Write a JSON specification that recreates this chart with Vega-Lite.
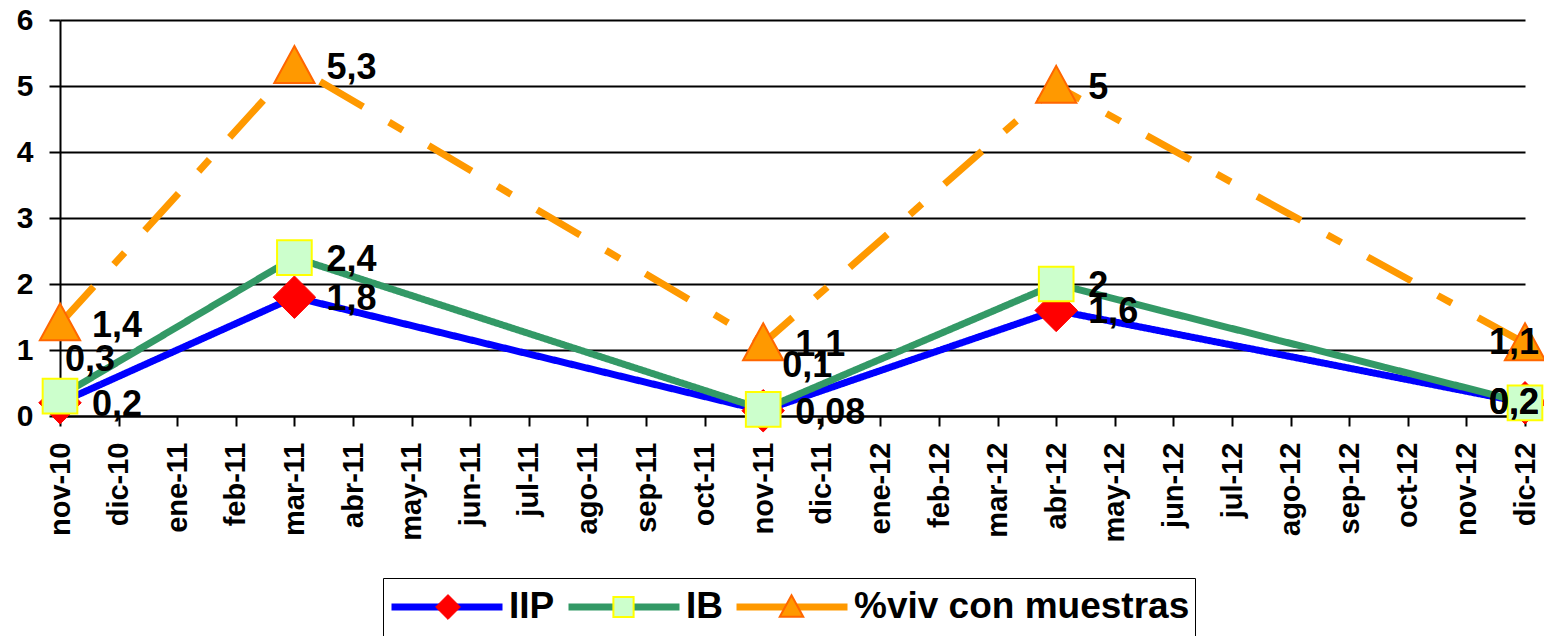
{
  "$schema": "https://vega.github.io/schema/vega-lite/v6.json",
  "width": 1465,
  "height": 396,
  "autosize": {"type": "none"},
  "padding": {"left": 60, "top": 20, "right": 19, "bottom": 220},
  "background": "white",
  "config": {
    "view": {"stroke": null},
    "font": "Liberation Sans",
    "locale": {"number": {"decimal": ",", "thousands": ".", "grouping": [3], "currency": ["", " €"]}}
  },
  "resolve": {"scale": {"shape": "independent"}, "legend": {"shape": "independent"}},
  "data": {
    "values": [
      {"mes": "nov-10", "serie": "IIP", "valor": 0.2},
      {"mes": "mar-11", "serie": "IIP", "valor": 1.8},
      {"mes": "nov-11", "serie": "IIP", "valor": 0.08},
      {"mes": "abr-12", "serie": "IIP", "valor": 1.6},
      {"mes": "dic-12", "serie": "IIP", "valor": 0.2},
      {"mes": "nov-10", "serie": "IB", "valor": 0.3},
      {"mes": "mar-11", "serie": "IB", "valor": 2.4},
      {"mes": "nov-11", "serie": "IB", "valor": 0.1},
      {"mes": "abr-12", "serie": "IB", "valor": 2},
      {"mes": "dic-12", "serie": "IB", "valor": 0.2},
      {"mes": "nov-10", "serie": "%viv con muestras", "valor": 1.4},
      {"mes": "mar-11", "serie": "%viv con muestras", "valor": 5.3},
      {"mes": "nov-11", "serie": "%viv con muestras", "valor": 1.1},
      {"mes": "abr-12", "serie": "%viv con muestras", "valor": 5},
      {"mes": "dic-12", "serie": "%viv con muestras", "valor": 1.1}
    ]
  },
  "encoding": {
    "x": {
      "field": "mes", "type": "ordinal",
      "sort": ["nov-10","dic-10","ene-11","feb-11","mar-11","abr-11","may-11","jun-11","jul-11","ago-11","sep-11","oct-11","nov-11","dic-11","ene-12","feb-12","mar-12","abr-12","may-12","jun-12","jul-12","ago-12","sep-12","oct-12","nov-12","dic-12"],
      "scale": {"type": "point", "padding": 0,
        "domain": ["nov-10","dic-10","ene-11","feb-11","mar-11","abr-11","may-11","jun-11","jul-11","ago-11","sep-11","oct-11","nov-11","dic-11","ene-12","feb-12","mar-12","abr-12","may-12","jun-12","jul-12","ago-12","sep-12","oct-12","nov-12","dic-12"]},
      "axis": {
        "title": null, "labelAngle": -90, "labelFont": "Liberation Sans", "labelFontSize": 29, "labelFontWeight": "bold",
        "labelColor": "black", "labelPadding": 16, "tickSize": 10, "tickWidth": 2, "tickColor": "black",
        "domainColor": "black", "domainWidth": 2, "grid": false, "labelOverlap": false
      }
    },
    "y": {
      "field": "valor", "type": "quantitative",
      "scale": {"domain": [0, 6], "nice": false},
      "axis": {
        "title": null, "values": [0,1,2,3,4,5,6], "format": "d", "grid": true, "gridColor": "black", "gridWidth": 2, "gridOpacity": 1,
        "tickSize": 11, "tickWidth": 2, "tickColor": "black", "domainColor": "black", "domainWidth": 2,
        "labelPadding": 16, "labelFont": "Liberation Sans", "labelFontSize": 30, "labelFontWeight": "bold", "labelColor": "black"
      }
    }
  },
  "layer": [
    {
      "mark": {"type": "line", "strokeWidth": 7, "strokeCap": "butt"},
      "encoding": {
        "stroke": {
          "field": "serie", "type": "nominal", "sort": ["IIP", "IB", "%viv con muestras"],
          "scale": {"range": ["#0000FF", "#339966", "#FF9900"]},
          "legend": {
            "orient": "none", "legendX": 323, "legendY": 558, "direction": "horizontal", "title": null,
            "symbolType": "stroke", "symbolSize": 12321, "symbolStrokeWidth": 7, "clipHeight": 48,
            "padding": 5, "labelOffset": 3, "columnPadding": 10, "labelFont": "Liberation Sans",
            "labelFontSize": 37, "labelFontWeight": "bold", "labelColor": "black", "labelLimit": 0,
            "strokeColor": "black", "zindex": 0
          }
        },
        "strokeDash": {
          "field": "serie", "type": "nominal", "sort": ["IIP", "IB", "%viv con muestras"],
          "scale": {"range": [[1, 0], [1, 0], [50, 30, 16, 30]]},
          "legend": null
        },
        "strokeWidth": {"condition": {"test": "datum.serie === 'IB'", "value": 5.5}, "value": 7}
      }
    },
    {
      "transform": [{"filter": "datum.serie === 'IIP'"}],
      "mark": {"type": "point", "filled": true, "fill": "#FF0000", "stroke": "#FF0000", "strokeWidth": 1, "opacity": 1, "size": 50000},
      "encoding": {
        "shape": {
          "field": "serie", "type": "nominal",
          "scale": {"range": ["M0,-0.19L0.19,0L0,0.19L-0.19,0Z"]},
          "legend": {
            "orient": "none", "legendX": 322, "legendY": 563, "title": null, "padding": 0,
            "symbolSize": 17000, "symbolStrokeWidth": 1, "clipHeight": 48,
            "labelExpr": "''", "labelFontSize": 1, "zindex": 1
          }
        }
      }
    },
    {
      "transform": [{"filter": "datum.serie === 'IB'"}],
      "mark": {"type": "point", "filled": true, "fill": "#CCFFCC", "stroke": "#FFFF00", "strokeWidth": 2, "opacity": 1, "size": 50000},
      "encoding": {
        "shape": {
          "field": "serie", "type": "nominal",
          "scale": {"range": ["M-0.155,-0.155L0.155,-0.155L0.155,0.155L-0.155,0.155Z"]},
          "legend": {
            "orient": "none", "legendX": 497, "legendY": 563, "title": null, "padding": 0,
            "symbolSize": 17000, "symbolStrokeWidth": 2, "clipHeight": 48,
            "labelExpr": "''", "labelFontSize": 1, "zindex": 1
          }
        }
      }
    },
    {
      "transform": [{"filter": "datum.serie === '%viv con muestras'"}],
      "mark": {"type": "point", "filled": true, "fill": "#FF9900", "stroke": "#FF6600", "strokeWidth": 2, "opacity": 1, "size": 50000},
      "encoding": {
        "shape": {
          "field": "serie", "type": "nominal",
          "scale": {"range": ["M0,-0.18L0.18,0.15L-0.18,0.15Z"]},
          "legend": {
            "orient": "none", "legendX": 665, "legendY": 563, "title": null, "padding": 0,
            "symbolSize": 17000, "symbolStrokeWidth": 2, "clipHeight": 48,
            "labelExpr": "''", "labelFontSize": 1, "zindex": 1
          }
        }
      }
    },
    {
      "transform": [{"filter": "datum.mes !== 'dic-12' && !(datum.serie === 'IB' && (datum.mes === 'nov-10' || datum.mes === 'nov-11'))"}],
      "mark": {"type": "text", "font": "Liberation Sans", "fontSize": 36, "fontWeight": "bold", "color": "black", "align": "left", "baseline": "middle", "dx": 32, "dy": 2},
      "encoding": {"text": {"field": "valor", "type": "quantitative", "format": "~g"}}
    },
    {
      "transform": [{"filter": "datum.serie === 'IB' && datum.mes === 'nov-10'"}],
      "mark": {"type": "text", "font": "Liberation Sans", "fontSize": 36, "fontWeight": "bold", "color": "black", "align": "left", "baseline": "middle", "dx": 5, "dy": -36},
      "encoding": {"text": {"field": "valor", "type": "quantitative", "format": "~g"}}
    },
    {
      "transform": [{"filter": "datum.serie === 'IB' && datum.mes === 'nov-11'"}],
      "mark": {"type": "text", "font": "Liberation Sans", "fontSize": 36, "fontWeight": "bold", "color": "black", "align": "left", "baseline": "middle", "dx": 19, "dy": -43},
      "encoding": {"text": {"field": "valor", "type": "quantitative", "format": "~g"}}
    },
    {
      "transform": [{"filter": "datum.mes === 'dic-12'"}],
      "mark": {"type": "text", "font": "Liberation Sans", "fontSize": 36, "fontWeight": "bold", "color": "black", "align": "center", "baseline": "middle", "dx": -11},
      "encoding": {"text": {"field": "valor", "type": "quantitative", "format": "~g"}}
    }
  ]
}
